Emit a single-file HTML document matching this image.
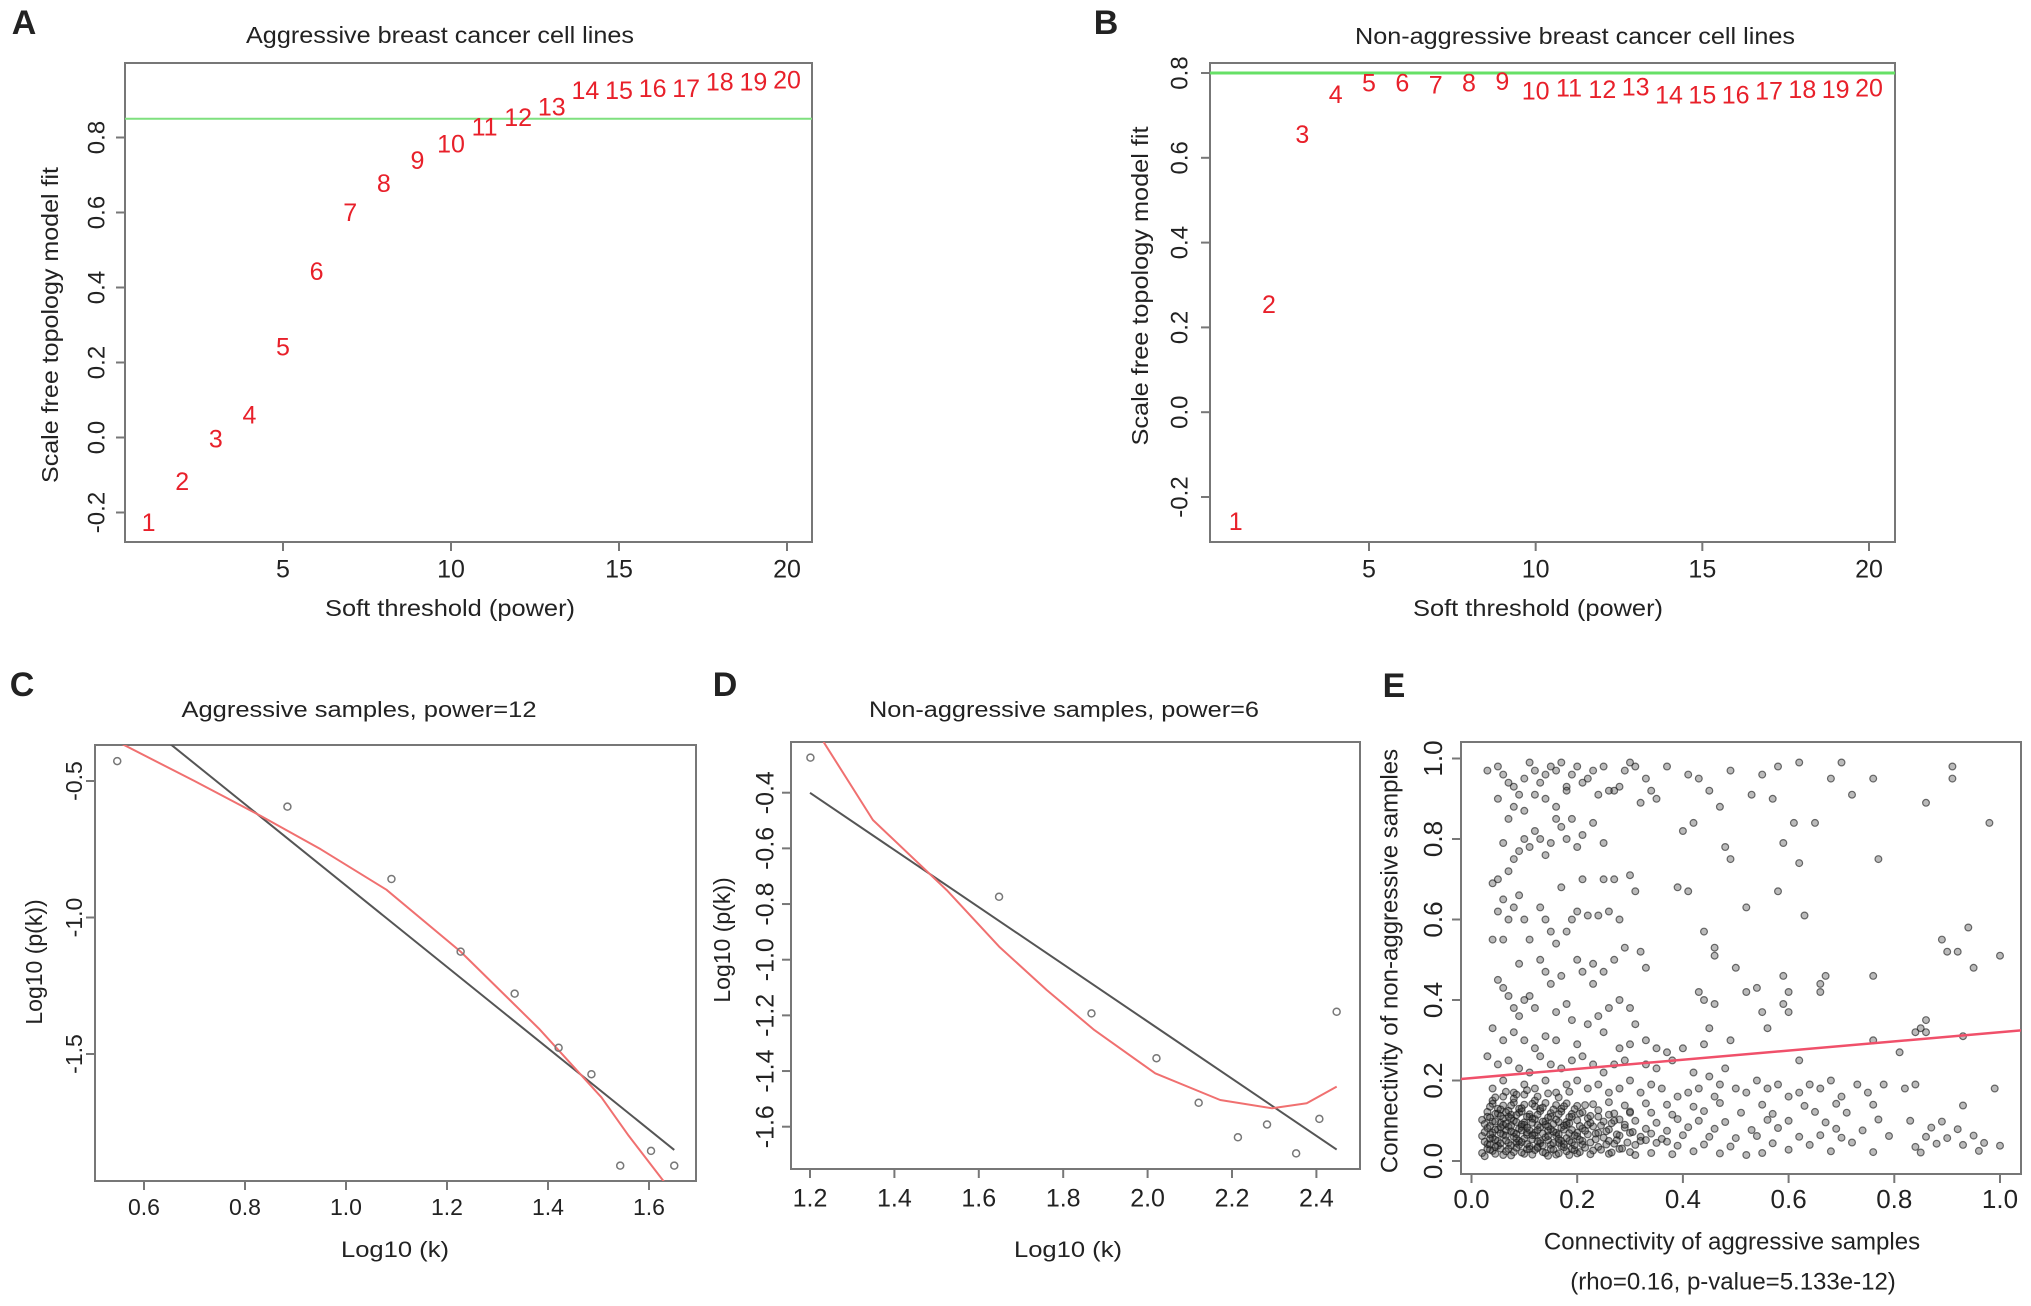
<!DOCTYPE html>
<html><head><meta charset="utf-8"><style>
html,body{margin:0;padding:0;background:#fff;}
svg{display:block;font-family:"Liberation Sans",Arial,sans-serif;}
</style></head><body>
<svg id="fig" width="2031" height="1306" viewBox="0 0 2031 1306" xmlns="http://www.w3.org/2000/svg"></svg>
<script>
// ---------- DATA ----------
const powers = [1,2,3,4,5,6,7,8,9,10,11,12,13,14,15,16,17,18,19,20];
const fitAggressive = [-0.232,-0.123,-0.009,0.055,0.236,0.437,0.595,0.672,0.734,0.778,0.823,0.848,0.876,0.92,0.92,0.925,0.925,0.943,0.943,0.948];
const fitNonAggressive = [-0.262,0.25,0.65,0.745,0.772,0.772,0.767,0.772,0.775,0.753,0.76,0.757,0.763,0.744,0.744,0.744,0.753,0.757,0.757,0.76];
const thresholdA = 0.85, thresholdB = 0.80;
const ticksAx = [5,10,15,20], ticksAy = [-0.2,0,0.2,0.4,0.6,0.8];
const ticksBy = [-0.2,0,0.2,0.4,0.6,0.8];

const cLogK = [0.547,0.884,1.090,1.227,1.334,1.421,1.486,1.543,1.604,1.650];
const cLogP = [-0.427,-0.594,-0.859,-1.125,-1.279,-1.477,-1.574,-1.909,-1.855,-1.909];
const cLine = [0.607,-1.49]; // intercept, slope
const cCurveX = [0.52,0.70,0.831,0.95,1.08,1.227,1.382,1.506,1.560,1.630,1.66];
const cCurveY = [-0.33,-0.50,-0.628,-0.75,-0.898,-1.125,-1.407,-1.659,-1.80,-1.968,-2.04];
const cTicksX = [0.6,0.8,1.0,1.2,1.4,1.6], cTicksY = [-0.5,-1.0,-1.5];

const dLogK = [1.201,1.648,1.867,2.021,2.121,2.214,2.283,2.352,2.407,2.448];
const dLogP = [-0.274,-0.774,-1.193,-1.354,-1.514,-1.638,-1.592,-1.696,-1.572,-1.187];
const dLine = [0.832,-1.027];
const dCurveX = [1.232,1.349,1.524,1.648,1.761,1.874,2.018,2.172,2.295,2.377,2.448];
const dCurveY = [-0.217,-0.498,-0.750,-0.953,-1.109,-1.253,-1.408,-1.504,-1.534,-1.516,-1.456];
const dTicksX = [1.2,1.4,1.6,1.8,2.0,2.2,2.4], dTicksY = [-0.4,-0.6,-0.8,-1.0,-1.2,-1.4,-1.6];

const eLine = [0.206,0.114];
const eTicks = [0,0.2,0.4,0.6,0.8,1.0];
const ePoints = [
[0.03,0.97],[0.05,0.98],[0.06,0.96],[0.08,0.93],[0.09,0.91],[0.1,0.95],[0.11,0.99],[0.12,0.97],[0.13,0.94],[0.14,0.96],[0.15,0.98],[0.16,0.97],[0.17,0.99],[0.18,0.93],[0.19,0.96],[0.2,0.98],[0.22,0.95],[0.23,0.97],[0.25,0.98],[0.27,0.92],[0.29,0.97],[0.3,0.99],[0.31,0.98],[0.33,0.95],[0.35,0.9],[0.37,0.98],[0.05,0.90],[0.07,0.94],[0.12,0.91],[0.14,0.90],[0.16,0.88],[0.18,0.92],[0.21,0.94],[0.24,0.91],[0.26,0.92],[0.28,0.93],[0.32,0.89],[0.34,0.92],[0.1,0.87],[0.08,0.88],
[0.41,0.96],[0.43,0.95],[0.45,0.92],[0.47,0.88],[0.49,0.97],[0.53,0.91],[0.55,0.96],[0.57,0.9],[0.58,0.98],[0.62,0.99],[0.68,0.95],[0.70,0.99],[0.72,0.91],[0.76,0.95],[0.86,0.89],[0.91,0.98],[0.91,0.95],[0.98,0.84],[0.4,0.82],[0.42,0.84],[0.48,0.78],[0.49,0.75],[0.59,0.79],[0.61,0.84],[0.62,0.74],[0.65,0.84],[0.77,0.75],[0.39,0.68],[0.41,0.67],[0.52,0.63],[0.58,0.67],[0.63,0.61],[0.44,0.57],[0.46,0.53],[0.46,0.51],[0.5,0.48],[0.59,0.46],[0.60,0.42],[0.67,0.46],[0.66,0.44],[0.66,0.42],[0.76,0.46],[0.89,0.55],[0.9,0.52],[0.92,0.52],[0.94,0.58],[0.95,0.48],[1.0,0.51],[0.43,0.42],[0.44,0.4],[0.46,0.39],[0.52,0.42],[0.54,0.43],[0.55,0.37],[0.56,0.33],[0.59,0.39],[0.6,0.37],[0.45,0.33],[0.49,0.3],[0.44,0.29],[0.84,0.32],[0.85,0.33],[0.86,0.35],[0.86,0.32],[0.76,0.3],[0.81,0.27],[0.93,0.31],[0.62,0.25],
[0.04,0.69],[0.05,0.7],[0.06,0.65],[0.05,0.62],[0.07,0.6],[0.08,0.63],[0.09,0.66],[0.1,0.6],[0.11,0.55],[0.06,0.55],[0.04,0.55],[0.07,0.72],[0.08,0.75],[0.09,0.77],[0.1,0.8],[0.11,0.78],[0.12,0.82],[0.13,0.8],[0.14,0.76],[0.15,0.79],[0.16,0.85],[0.17,0.83],[0.18,0.8],[0.19,0.85],[0.2,0.78],[0.21,0.81],[0.23,0.84],[0.25,0.79],[0.06,0.79],[0.07,0.85],[0.13,0.63],[0.14,0.6],[0.15,0.57],[0.16,0.54],[0.18,0.57],[0.19,0.6],[0.2,0.62],[0.22,0.61],[0.24,0.61],[0.26,0.62],[0.28,0.6],[0.3,0.71],[0.31,0.67],[0.27,0.7],[0.25,0.7],[0.21,0.7],[0.17,0.68],[0.13,0.5],[0.14,0.47],[0.15,0.44],[0.17,0.46],[0.2,0.5],[0.21,0.47],[0.23,0.49],[0.25,0.47],[0.27,0.5],[0.29,0.53],[0.32,0.52],[0.33,0.48],[0.05,0.45],[0.06,0.43],[0.07,0.41],[0.08,0.38],[0.09,0.36],[0.1,0.4],[0.11,0.41],[0.12,0.38],[0.09,0.49],[0.16,0.37],[0.18,0.39],[0.19,0.35],[0.22,0.34],[0.24,0.36],[0.26,0.38],[0.28,0.4],[0.3,0.38],[0.31,0.34],[0.33,0.3],[0.23,0.44],[0.04,0.33],[0.06,0.3],[0.08,0.32],[0.1,0.3],[0.12,0.28],[0.14,0.31],[0.16,0.3],[0.2,0.29],[0.25,0.32],[0.28,0.28],[0.3,0.29],[0.35,0.28],[0.37,0.27],[0.4,0.28],
[0.03,0.26],[0.05,0.24],[0.07,0.25],[0.09,0.23],[0.11,0.22],[0.13,0.26],[0.15,0.24],[0.17,0.23],[0.19,0.25],[0.21,0.26],[0.23,0.24],[0.25,0.22],[0.27,0.24],[0.29,0.25],[0.33,0.24],[0.35,0.23],[0.38,0.25],[0.42,0.22],[0.45,0.21],[0.48,0.23],[0.5,0.18],[0.52,0.17],[0.54,0.2],[0.56,0.18],[0.58,0.19],[0.6,0.16],[0.62,0.17],[0.64,0.19],[0.66,0.18],[0.68,0.2],[0.7,0.16],[0.73,0.19],[0.75,0.17],[0.78,0.19],[0.82,0.18],[0.84,0.19],[0.99,0.18],[0.04,0.18],[0.06,0.2],[0.08,0.17],[0.1,0.19],[0.12,0.18],[0.14,0.2],[0.16,0.17],[0.18,0.19],[0.2,0.2],[0.22,0.18],[0.24,0.19],[0.26,0.17],[0.28,0.18],[0.3,0.2],[0.32,0.17],[0.34,0.19],[0.36,0.18],[0.39,0.16],[0.41,0.17],[0.43,0.18],[0.46,0.16],[0.47,0.19],
[0.02,0.02],[0.04,0.025],[0.06,0.015],[0.08,0.022],[0.1,0.018],[0.12,0.027],[0.14,0.02],[0.16,0.016],[0.18,0.024],[0.2,0.019],[0.23,0.026],[0.26,0.018],[0.3,0.022],[0.34,0.02],[0.38,0.017],[0.42,0.024],[0.47,0.019],[0.52,0.015],[0.55,0.02],[0.6,0.028],[0.68,0.024],[0.76,0.022],[0.85,0.021],[0.96,0.025],
[0.03,0.042],[0.05,0.038],[0.07,0.045],[0.09,0.04],[0.11,0.036],[0.13,0.044],[0.15,0.04],[0.17,0.037],[0.19,0.046],[0.21,0.041],[0.24,0.035],[0.27,0.043],[0.31,0.04],[0.35,0.045],[0.39,0.038],[0.44,0.041],[0.49,0.036],[0.57,0.044],[0.64,0.04],[0.72,0.046],[0.84,0.035],[0.88,0.043],[0.93,0.04],[0.97,0.045],[1.0,0.038],
[0.02,0.062],[0.04,0.058],[0.06,0.065],[0.08,0.06],[0.1,0.056],[0.12,0.064],[0.14,0.059],[0.16,0.063],[0.18,0.057],[0.2,0.061],[0.22,0.066],[0.25,0.058],[0.28,0.063],[0.32,0.06],[0.36,0.055],[0.4,0.064],[0.45,0.06],[0.5,0.057],[0.54,0.062],[0.62,0.06],[0.66,0.064],[0.7,0.058],[0.79,0.062],[0.86,0.06],[0.9,0.057],[0.95,0.063],
[0.03,0.082],[0.05,0.078],[0.07,0.085],[0.09,0.08],[0.11,0.076],[0.13,0.084],[0.15,0.079],[0.17,0.083],[0.19,0.077],[0.21,0.081],[0.23,0.086],[0.26,0.078],[0.29,0.083],[0.33,0.08],[0.37,0.075],[0.41,0.084],[0.46,0.08],[0.53,0.077],[0.58,0.082],[0.69,0.08],[0.74,0.076],[0.87,0.083],[0.92,0.079],
[0.02,0.102],[0.04,0.098],[0.06,0.105],[0.08,0.1],[0.1,0.096],[0.12,0.104],[0.14,0.099],[0.16,0.103],[0.18,0.097],[0.2,0.101],[0.22,0.106],[0.25,0.098],[0.28,0.103],[0.31,0.1],[0.35,0.095],[0.39,0.104],[0.43,0.1],[0.48,0.097],[0.56,0.102],[0.6,0.1],[0.67,0.096],[0.77,0.103],[0.83,0.1],[0.89,0.098],
[0.03,0.122],[0.05,0.118],[0.07,0.125],[0.09,0.12],[0.11,0.116],[0.13,0.124],[0.15,0.119],[0.17,0.123],[0.19,0.117],[0.21,0.121],[0.24,0.126],[0.27,0.118],[0.3,0.123],[0.34,0.12],[0.38,0.115],[0.44,0.124],[0.51,0.12],[0.57,0.117],[0.65,0.122],[0.71,0.12],
[0.04,0.142],[0.06,0.138],[0.08,0.145],[0.1,0.14],[0.12,0.136],[0.14,0.144],[0.16,0.139],[0.18,0.143],[0.2,0.137],[0.23,0.141],[0.26,0.146],[0.29,0.138],[0.33,0.143],[0.37,0.14],[0.42,0.135],[0.47,0.144],[0.55,0.14],[0.63,0.137],[0.69,0.142],[0.76,0.14],[0.93,0.138],
[0.03,0.03],[0.05,0.05],[0.07,0.03],[0.09,0.05],[0.11,0.03],[0.13,0.05],[0.15,0.03],[0.17,0.05],[0.19,0.03],[0.21,0.05],[0.04,0.07],[0.06,0.09],[0.08,0.07],[0.1,0.09],[0.12,0.07],[0.14,0.09],[0.16,0.07],[0.18,0.09],[0.2,0.07],[0.22,0.09],[0.03,0.11],[0.05,0.13],[0.07,0.11],[0.09,0.13],[0.11,0.11],[0.13,0.13],[0.15,0.11],[0.17,0.13],[0.19,0.11],[0.04,0.15],[0.06,0.16],[0.08,0.155],[0.1,0.165],[0.12,0.15],[0.24,0.07],[0.26,0.05],[0.28,0.03],[0.3,0.07],[0.32,0.05],[0.24,0.11],[0.27,0.1],[0.3,0.12],[0.035,0.055],[0.045,0.035],[0.065,0.075],[0.085,0.045],[0.105,0.065],[0.125,0.035],[0.145,0.075],[0.165,0.045],[0.055,0.095],[0.075,0.115],[0.095,0.085],[0.115,0.105],
[0.025,0.012],[0.035,0.028],[0.045,0.018],[0.055,0.031],[0.065,0.024],[0.075,0.014],[0.085,0.033],[0.095,0.021],[0.105,0.029],[0.115,0.016],[0.125,0.032],[0.135,0.022],[0.145,0.013],[0.155,0.028],[0.165,0.019],[0.175,0.034],[0.185,0.015],[0.195,0.027],[0.205,0.022],[0.215,0.033],[0.225,0.017],[0.245,0.028],[0.265,0.021],[0.285,0.031],[0.31,0.015],
[0.025,0.048],[0.035,0.041],[0.045,0.053],[0.055,0.044],[0.065,0.051],[0.075,0.039],[0.085,0.056],[0.095,0.047],[0.105,0.042],[0.115,0.054],[0.125,0.049],[0.135,0.038],[0.145,0.052],[0.155,0.045],[0.165,0.055],[0.175,0.042],[0.185,0.05],[0.195,0.039],[0.205,0.053],[0.225,0.046],[0.235,0.054],[0.255,0.041],[0.275,0.052],[0.295,0.046],[0.33,0.052],[0.37,0.048],
[0.025,0.072],[0.035,0.066],[0.045,0.078],[0.055,0.069],[0.065,0.063],[0.075,0.074],[0.085,0.067],[0.095,0.076],[0.105,0.071],[0.115,0.064],[0.125,0.077],[0.135,0.068],[0.145,0.062],[0.155,0.073],[0.165,0.066],[0.175,0.078],[0.185,0.069],[0.195,0.064],[0.215,0.075],[0.235,0.068],[0.255,0.074],[0.275,0.066],[0.305,0.072],[0.34,0.068],
[0.025,0.092],[0.035,0.087],[0.045,0.098],[0.055,0.084],[0.065,0.093],[0.075,0.088],[0.085,0.097],[0.095,0.091],[0.105,0.083],[0.115,0.095],[0.125,0.089],[0.135,0.098],[0.145,0.086],[0.155,0.092],[0.165,0.097],[0.175,0.088],[0.185,0.094],[0.205,0.087],[0.225,0.095],[0.245,0.088],[0.265,0.094],[0.29,0.09],
[0.035,0.108],[0.045,0.117],[0.055,0.112],[0.065,0.121],[0.075,0.106],[0.085,0.114],[0.095,0.123],[0.105,0.11],[0.125,0.115],[0.145,0.108],[0.165,0.116],[0.185,0.109],[0.205,0.118],[0.225,0.112],[0.26,0.115],
[0.035,0.135],[0.055,0.128],[0.075,0.138],[0.095,0.131],[0.115,0.142],[0.135,0.133],[0.155,0.128],[0.175,0.136],[0.195,0.129],[0.215,0.139],[0.045,0.158],[0.065,0.172],[0.085,0.165],[0.105,0.176],[0.125,0.16],[0.145,0.168],[0.165,0.158],[0.185,0.172]
];

// ---------- helpers ----------
const NS = "http://www.w3.org/2000/svg";
const svg = document.getElementById('fig');
function mk(tag, attrs, parent, txt){
  const e = document.createElementNS(NS, tag);
  for (const k in attrs) e.setAttribute(k, attrs[k]);
  if (txt !== undefined) e.textContent = txt;
  (parent || svg).appendChild(e);
  return e;
}
function lin(d0,d1,r0,r1){ return v => r0 + (v-d0)*(r1-r0)/(d1-d0); }

function frame(g, L, T, R, B){
  const r = mk('rect',{x:L,y:T,width:R-L,height:B-T,fill:'none',stroke:'#777','stroke-width':2},g);
  
  
}
function xAxis(g, ticks, sx, B, ly, fs, fmt){
  const ax = mk('line',{x1:sx(ticks[0]),x2:sx(ticks[ticks.length-1]),y1:B,y2:B,stroke:'#777','stroke-width':2},g);
  
  
  ticks.forEach(t=>{
    const tk = mk('line',{x1:sx(t),x2:sx(t),y1:B,y2:B+9,stroke:'#777','stroke-width':2},g);
    
    
    const lb = mk('text',{x:sx(t),y:ly,'font-size':fs,'text-anchor':'middle','dominant-baseline':'middle',fill:'#222'},g,fmt(t));
    
    
  });
}
function yAxis(g, ticks, sy, L, lx, fs, fmt){
  ticks.forEach(t=>{
    const tk = mk('line',{x1:L-9,x2:L,y1:sy(t),y2:sy(t),stroke:'#777','stroke-width':2},g);
    
    
    const lb = mk('text',{x:lx,y:sy(t),'font-size':fs,'text-anchor':'middle','dominant-baseline':'middle',fill:'#222',transform:`rotate(-90 ${lx} ${sy(t)})`},g,fmt(t));
    
    
  });
}
function text(g, x, y, s, fs, name, opts){
  opts = opts || {};
  const a = {x:x,y:y,'font-size':fs,'text-anchor':opts.anchor||'middle','dominant-baseline':'middle',fill:opts.fill||'#222'};
  if (opts.rot) a.transform = `rotate(-90 ${x} ${y})`;
  if (opts.weight) a['font-weight'] = opts.weight;
  if (opts.len) { a.textLength = opts.len; a.lengthAdjust='spacingAndGlyphs'; }
  const t = mk('text',a,g,s);
  
  
  return t;
}
const f1 = v => v.toFixed(1);
const fInt = v => String(v);

// ---------- Panel A ----------
(function(){
  const g = mk('g',{});
  
  
  const L=125,R=812,T=63,B=542;
  const sx = lin(5,20,283,787), sy = lin(0,0.8,437.5,137.5);
  frame(g,L,T,R,B);
  const gl = mk('line',{x1:L,x2:R,y1:sy(thresholdA),y2:sy(thresholdA),stroke:'#7fe07f','stroke-width':2},g);
  
  
  powers.forEach((p,i)=>{
    const t = mk('text',{x:sx(p),y:sy(fitAggressive[i]),'font-size':25,'text-anchor':'middle','dominant-baseline':'middle',fill:'#e8202a'},g,String(p));
    
    
  });
  xAxis(g,ticksAx,sx,B,571,25,fInt);
  yAxis(g,ticksAy,sy,L,98,24,f1);
  text(g,440,37,'Aggressive breast cancer cell lines',23,'chart-title',{len:388});
  text(g,450,610,'Soft threshold (power)',23,'x-axis-title',{len:250});
  text(g,52,325,'Scale free topology model fit',23,'y-axis-title',{rot:true,len:316});
  text(g,24,25,'A',34,'panel-label',{weight:'bold'});
})();

// ---------- Panel B ----------
(function(){
  const g = mk('g',{});
  
  
  const L=1210,R=1895,T=63,B=542;
  const sx = lin(5,20,1369,1869), sy = lin(-0.2,0.8,497,73);
  frame(g,L,T,R,B);
  const gl = mk('line',{x1:L,x2:R,y1:sy(thresholdB),y2:sy(thresholdB),stroke:'#66e066','stroke-width':3},g);
  
  
  powers.forEach((p,i)=>{
    const t = mk('text',{x:sx(p),y:sy(fitNonAggressive[i]),'font-size':25,'text-anchor':'middle','dominant-baseline':'middle',fill:'#e8202a'},g,String(p));
    
    
  });
  xAxis(g,ticksAx,sx,B,571,25,fInt);
  yAxis(g,ticksBy,sy,L,1181,24,f1);
  text(g,1575,38,'Non-aggressive breast cancer cell lines',23,'chart-title',{len:440});
  text(g,1538,610,'Soft threshold (power)',23,'x-axis-title',{len:250});
  text(g,1142,286,'Scale free topology model fit',23,'y-axis-title',{rot:true,len:319});
  text(g,1106,25,'B',34,'panel-label',{weight:'bold'});
})();

// ---------- Panel C / D ----------
function scalePanel(cfg){
  const g = mk('g',{});
  
  
  const {L,R,T,B,sx,sy} = cfg;
  const clip = mk('clipPath',{id:cfg.name+'-clip'},g);
  mk('rect',{x:L,y:T,width:R-L,height:B-T},clip);
  frame(g,L,T,R,B);
  const inner = mk('g',{'clip-path':`url(#${cfg.name}-clip)`},g);
  const x0 = cfg.lineX[0], x1 = cfg.lineX[1];
  const ln = mk('line',{x1:sx(x0),y1:sy(cfg.line[0]+cfg.line[1]*x0),x2:sx(x1),y2:sy(cfg.line[0]+cfg.line[1]*x1),stroke:'#555','stroke-width':2},inner);
  
  
  const pts = cfg.cx.map((x,i)=>sx(x).toFixed(1)+','+sy(cfg.cy[i]).toFixed(1)).join(' ');
  const pl = mk('polyline',{points:pts,fill:'none',stroke:'#f07070','stroke-width':2,'stroke-linejoin':'round'},inner);
  
  
  cfg.px.forEach((x,i)=>{
    const c = mk('circle',{cx:sx(x),cy:sy(cfg.py[i]),r:3.5,fill:'none',stroke:'#777','stroke-width':1.5},inner);
    
    
  });
  xAxis(g,cfg.tx,sx,B,cfg.xly,cfg.fs,f1);
  yAxis(g,cfg.ty,sy,L,cfg.ylx,cfg.fs,f1);
  text(g,cfg.titleX,711,cfg.title,22,'chart-title',{len:cfg.titleLen});
  text(g,cfg.xlabX,1251,'Log10 (k)',22,'x-axis-title',{len:108});
  text(g,cfg.ylabX,cfg.ylabY,'Log10 (p(k))',23,'y-axis-title',{rot:true});
  text(g,cfg.lblX,687,cfg.lbl,34,'panel-label',{weight:'bold'});
}
scalePanel({name:'panel-c',L:95,R:696,T:745,B:1181,
  sx:lin(0.6,1.6,144,649), sy:lin(-0.5,-1.0,781,917.5),
  px:cLogK,py:cLogP,cx:cCurveX,cy:cCurveY,line:cLine,lineX:[0.5,1.65],
  tx:cTicksX,ty:cTicksY,ylx:76,xly:1209,fs:23,titleX:359,titleLen:355,title:'Aggressive samples, power=12',
  xlabX:395,ylabX:36,ylabY:962,lbl:'C',lblX:22});
scalePanel({name:'panel-d',L:791,R:1360,T:742,B:1169,
  sx:lin(1.2,2.4,810,1316.4), sy:lin(-0.4,-1.6,792.7,1126.7),
  px:dLogK,py:dLogP,cx:dCurveX,cy:dCurveY,line:dLine,lineX:[1.2,2.448],
  tx:dTicksX,ty:dTicksY,ylx:767,xly:1200,fs:25,titleX:1064,titleLen:390,title:'Non-aggressive samples, power=6',
  xlabX:1068,ylabX:724,ylabY:940,lbl:'D',lblX:725});

// ---------- Panel E ----------
(function(){
  const g = mk('g',{});
  
  
  const L=1461,R=2021,T=742,B=1174;
  const sx = lin(0,1,1471.5,2000), sy = lin(0,1,1161,758.5);
  frame(g,L,T,R,B);
  ePoints.forEach(p=>{
    const c = mk('circle',{cx:sx(p[0]).toFixed(1),cy:sy(p[1]).toFixed(1),r:3.4,fill:'rgba(60,60,60,0.35)',stroke:'rgba(20,20,20,0.6)','stroke-width':1.2},g);
    
    
  });
  const clip = mk('clipPath',{id:'e-clip'},g);
  mk('rect',{x:L,y:T,width:R-L,height:B-T},clip);
  const xa = (L-1471.5)/528.5, xb = (R-1471.5)/528.5;
  const rl = mk('line',{x1:L,y1:sy(eLine[0]+eLine[1]*xa),x2:R,y2:sy(eLine[0]+eLine[1]*xb),stroke:'#f0506a','stroke-width':2.5,'clip-path':'url(#e-clip)'},g);
  
  
  xAxis(g,eTicks,sx,B,1201,26,f1);
  yAxis(g,eTicks,sy,L,1435,26,f1);
  text(g,1732,1243,'Connectivity of aggressive samples',24,'x-axis-title');
  text(g,1733,1283,'(rho=0.16, p-value=5.133e-12)',24,'x-axis-subtitle');
  text(g,1391,961,'Connectivity of non-aggressive samples',24,'y-axis-title',{rot:true});
  text(g,1394,688,'E',34,'panel-label',{weight:'bold'});
})();
</script>
</body></html>
